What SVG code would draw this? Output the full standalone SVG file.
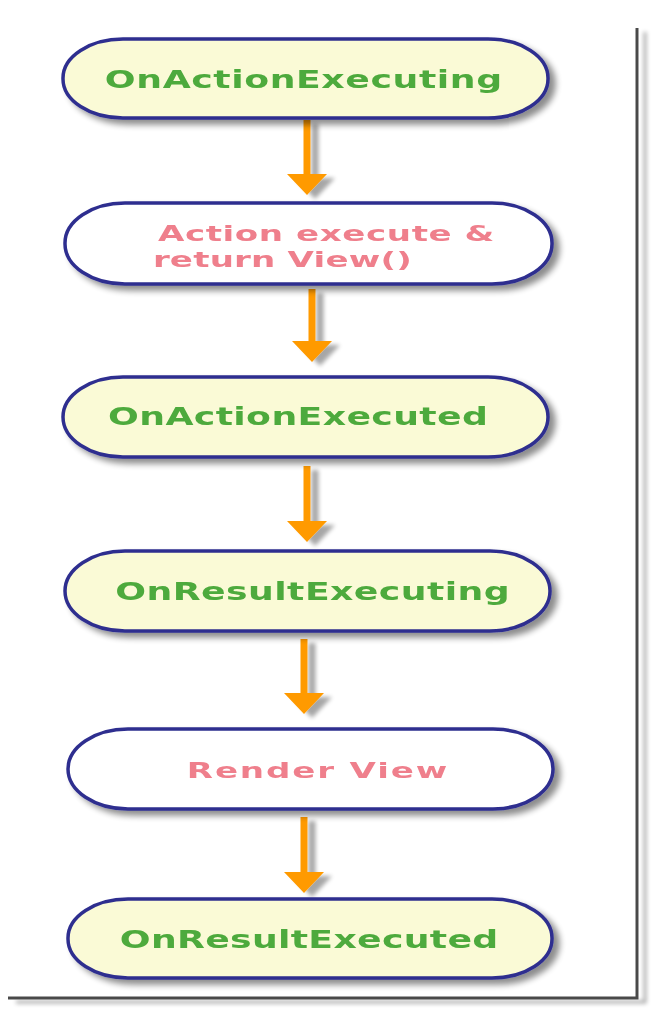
<svg xmlns="http://www.w3.org/2000/svg" width="671" height="1018" viewBox="0 0 671 1018">
<style>
.node{stroke:#2E2F8F;stroke-width:3.5}
.yel{fill:#FAFAD6}
.wht{fill:#FFFFFF}
.g{font-family:"DejaVu Sans",Verdana,sans-serif;font-weight:bold;font-size:25px;fill:#4DAA3C;text-anchor:middle}
.p{font-family:"DejaVu Sans",Verdana,sans-serif;font-weight:bold;font-size:22px;fill:#EF7F8C}
.arr{fill:#FF9A00;stroke:none}
.frame{stroke:#4A4A4A;stroke-width:3;fill:none}
</style>
<defs>
<filter id="sh" x="-10%" y="-30%" width="130%" height="170%">
<feGaussianBlur in="SourceAlpha" stdDeviation="3"/>
<feOffset dx="6" dy="5" result="b"/>
<feComponentTransfer><feFuncA type="linear" slope="0.45"/></feComponentTransfer>
<feMerge><feMergeNode/><feMergeNode in="SourceGraphic"/></feMerge>
</filter>
<filter id="ash" x="-100%" y="-20%" width="300%" height="150%">
<feGaussianBlur in="SourceAlpha" stdDeviation="2"/>
<feOffset dx="8" dy="4"/>
<feComponentTransfer><feFuncA type="linear" slope="0.35"/></feComponentTransfer>
<feMerge><feMergeNode/><feMergeNode in="SourceGraphic"/></feMerge>
</filter>
</defs>
<g id="frame" filter="url(#ash)">
<path class="frame" d="M637,28 L637,998 L8,998"/>
</g>
<g id="connectors" filter="url(#ash)">
<path class="arr" d="M303.5,120 H310.5 V174 H327 L307,195 L287,174 H303.5 Z"/>
<path class="arr" d="M308.5,289 H315.5 V341 H332 L312,362 L292,341 H308.5 Z"/>
<path class="arr" d="M303.5,466 H310.5 V521 H327 L307,542 L287,521 H303.5 Z"/>
<path class="arr" d="M300.5,639 H307.5 V693 H324 L304,714 L284,693 H300.5 Z"/>
<path class="arr" d="M300.5,817 H307.5 V872 H324 L304,893 L284,872 H300.5 Z"/>
</g>
<g id="n1" filter="url(#sh)">
<rect class="node yel" x="63" y="39" width="485" height="79" rx="60" ry="39"/>
<g transform="translate(303.5,0) scale(1.45,1)"><text class="g" x="0" y="88" textLength="274" lengthAdjust="spacing">OnActionExecuting</text></g>
</g>
<g id="n2" filter="url(#sh)">
<rect class="node wht" x="65" y="203" width="487" height="81" rx="60" ry="40"/>
<g transform="translate(156,0) scale(1.55,1)">
<text class="p" x="1.3" y="241" textLength="217" lengthAdjust="spacing">Action execute &amp;</text>
<text class="p" x="-2" y="267" textLength="167" lengthAdjust="spacing">return View()</text>
</g>
</g>
<g id="n3" filter="url(#sh)">
<rect class="node yel" x="63" y="377" width="485" height="80" rx="60" ry="40"/>
<g transform="translate(298,0) scale(1.45,1)"><text class="g" x="0" y="425" textLength="262" lengthAdjust="spacing">OnActionExecuted</text></g>
</g>
<g id="n4" filter="url(#sh)">
<rect class="node yel" x="65" y="551" width="485" height="80" rx="60" ry="40"/>
<g transform="translate(312.5,0) scale(1.45,1)"><text class="g" x="0" y="600" textLength="272" lengthAdjust="spacing">OnResultExecuting</text></g>
</g>
<g id="n5" filter="url(#sh)">
<rect class="node wht" x="68" y="729" width="485" height="80" rx="60" ry="40"/>
<g transform="translate(317,0) scale(1.55,1)"><text class="p" x="0" y="778" text-anchor="middle" textLength="168" lengthAdjust="spacing">Render View</text></g>
</g>
<g id="n6" filter="url(#sh)">
<rect class="node yel" x="68" y="899" width="484" height="79" rx="60" ry="39"/>
<g transform="translate(309,0) scale(1.45,1)"><text class="g" x="0" y="948" textLength="261" lengthAdjust="spacing">OnResultExecuted</text></g>
</g>
</svg>
